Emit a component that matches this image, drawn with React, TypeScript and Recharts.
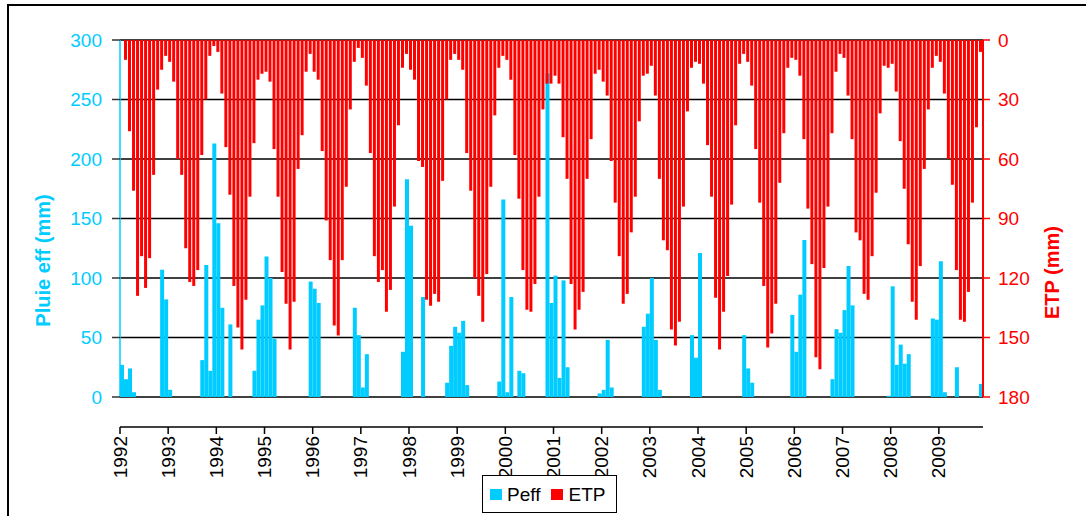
import { BarChart, Bar, XAxis, YAxis, CartesianGrid, Legend } from 'recharts';

// page margin off so the frame can sit at the very top-left like the original
if (typeof document !== 'undefined') document.body.style.margin = '0';

const YEARS = [
  1992, 1993, 1994, 1995, 1996, 1997, 1998, 1999, 2000,
  2001, 2002, 2003, 2004, 2005, 2006, 2007, 2008, 2009,
];

// effective rainfall (mm), monthly, Jan 1992 -> Nov 2009
const PEFF = [
  27, 15, 24, 4, 0, 0, 0, 0, 0, 0, 107, 82,
  6, 0, 0, 0, 0, 0, 0, 0, 31, 111, 22, 213,
  146, 75, 0, 61, 0, 0, 0, 0, 0, 22, 65, 77,
  118, 100, 49, 0, 0, 0, 0, 0, 0, 0, 0, 97,
  91, 79, 0, 0, 0, 0, 0, 0, 0, 0, 75, 52,
  8, 36, 0, 0, 0, 0, 0, 0, 0, 0, 38, 183,
  144, 0, 0, 84, 0, 0, 0, 0, 0, 12, 43, 59,
  54, 64, 10, 0, 0, 0, 0, 0, 0, 0, 13, 166,
  4, 84, 0, 22, 20, 0, 0, 0, 0, 0, 272, 79,
  102, 16, 98, 25, 0, 0, 0, 0, 0, 0, 0, 3,
  6, 48, 8, 0, 0, 0, 0, 0, 0, 0, 59, 70,
  100, 48, 6, 0, 0, 0, 0, 0, 0, 0, 52, 33,
  121, 0, 0, 0, 0, 0, 0, 0, 0, 0, 0, 52,
  24, 12, 0, 0, 0, 0, 0, 0, 0, 0, 0, 69,
  38, 86, 132, 0, 0, 0, 0, 0, 0, 15, 57, 54,
  73, 110, 77, 0, 0, 0, 0, 0, 0, 0, 0, 1,
  93, 27, 44, 28, 36, 0, 0, 0, 0, 0, 66, 65,
  114, 4, 0, 0, 25, 0, 0, 0, 0, 0, 11,
];

// potential evapotranspiration (mm), same months
const ETP = [
  10, 46, 76, 129, 109, 125, 110, 68, 25, 15, 8, 11,
  21, 60, 68, 105, 122, 124, 116, 58, 30, 8, 3, 6,
  27, 54, 78, 124, 145, 156, 131, 79, 52, 20, 17, 16,
  21, 55, 79, 117, 133, 156, 132, 65, 48, 16, 7, 16,
  20, 56, 91, 111, 144, 149, 111, 74, 35, 11, 4, 9,
  23, 57, 109, 122, 116, 137, 126, 84, 43, 14, 7, 15,
  20, 61, 64, 131, 134, 128, 132, 71, 30, 10, 7, 10,
  15, 57, 76, 120, 129, 142, 118, 74, 38, 14, 8, 10,
  20, 58, 80, 116, 136, 137, 123, 79, 35, 22, 22, 18,
  22, 49, 70, 123, 146, 136, 127, 70, 50, 17, 15, 21,
  28, 61, 82, 109, 133, 128, 97, 79, 41, 18, 17, 13,
  28, 70, 101, 106, 146, 154, 142, 84, 36, 14, 11, 12,
  22, 53, 79, 130, 156, 137, 119, 83, 43, 12, 7, 11,
  23, 55, 82, 124, 155, 148, 133, 72, 47, 14, 9, 10,
  18, 50, 85, 113, 160, 166, 115, 84, 47, 16, 7, 9,
  28, 50, 97, 101, 128, 131, 109, 77, 37, 13, 14, 12,
  26, 51, 75, 103, 132, 141, 114, 65, 35, 14, 8, 11,
  27, 60, 73, 116, 141, 142, 127, 82, 44, 6, 0,
];

const PEFF_TICKS = [0, 50, 100, 150, 200, 250, 300];
const ETP_TICKS = [0, 30, 60, 90, 120, 150, 180];

const FONT = '"Liberation Sans", Arial, sans-serif';
const CYAN = '#00CCFF';
const RED = '#FF0000';

// ETP bars sit a little right of the Peff bars in the original
const ETP_SHIFT = 0.75;

const N = PEFF.length;
const data = PEFF.map((peff, i) => ({ t: i + 0.5, peff, etp: ETP[i] }));
const yearTicks = YEARS.map((_, k) => k * 12);

function YearTick(props: any) {
  const { x, y, payload } = props;
  return (
    <text
      x={x}
      y={y}
      transform={`rotate(-90, ${x}, ${y})`}
      textAnchor="end"
      dominantBaseline="central"
      fontSize={19}
      fontFamily={FONT}
      fill="#000"
    >
      {YEARS[Math.round(payload.value / 12)]}
    </text>
  );
}

function axisTitle(text: string, color: string, dx: number, dy: number) {
  return (props: any) => {
    const vb = props.viewBox;
    const cx = vb.x + dx;
    const cy = vb.y + vb.height / 2 + dy;
    return (
      <text
        x={cx}
        y={cy}
        transform={`rotate(-90, ${cx}, ${cy})`}
        textAnchor="middle"
        dominantBaseline="central"
        fontSize={20}
        fontWeight="bold"
        fontFamily={FONT}
        fill={color}
      >
        {text}
      </text>
    );
  };
}

function LegendBox() {
  const swatch = (c: string) => (
    <span style={{ display: 'inline-block', width: 12, height: 11, background: c, marginRight: 5 }} />
  );
  return (
    <div
      style={{
        boxSizing: 'border-box',
        width: 135,
        height: 38,
        border: '1.5px solid #000',
        background: '#fff',
        display: 'flex',
        alignItems: 'center',
        paddingLeft: 7,
        fontFamily: FONT,
        fontSize: 19,
        color: '#000',
        lineHeight: 1,
      }}
    >
      {swatch(CYAN)}
      <span>Peff</span>
      <span style={{ width: 11 }} />
      {swatch(RED)}
      <span>ETP</span>
    </div>
  );
}

export default function App() {
  return (
    <div style={{ position: 'relative', width: 1086, height: 516, overflow: 'hidden', background: '#fff', fontFamily: FONT }}>
      <div
        style={{
          position: 'absolute',
          left: 7,
          top: 4,
          width: 1200,
          height: 700,
          borderLeft: '2px solid #000',
          borderTop: '2px solid #000',
        }}
      />
      <div style={{ position: 'absolute', left: 0, top: 0 }}>
        <BarChart width={1086} height={516} data={data} margin={{ top: 40, right: 13, left: 40, bottom: 0 }}>
          <CartesianGrid xAxisId="peff" yAxisId="left" vertical={false} stroke="#000" strokeWidth={1.5} />
          <XAxis
            xAxisId="peff"
            dataKey="t"
            type="number"
            domain={[0, N]}
            allowDataOverflow
            ticks={yearTicks}
            interval={0}
            tick={<YearTick />}
            tickSize={7}
            tickMargin={2}
            height={78}
            axisLine={{ stroke: '#000', strokeWidth: 1.5 }}
            tickLine={{ stroke: '#000', strokeWidth: 1.5 }}
          />
          <XAxis
            xAxisId="etp"
            dataKey="t"
            type="number"
            domain={[-ETP_SHIFT, N - ETP_SHIFT]}
            allowDataOverflow
            hide
          />
          <YAxis
            yAxisId="left"
            domain={[0, 300]}
            ticks={PEFF_TICKS}
            interval={0}
            width={80}
            tickSize={8}
            tickMargin={10}
            tick={{ fill: CYAN, fontSize: 19, fontFamily: FONT }}
            axisLine={{ stroke: CYAN, strokeWidth: 1.5 }}
            tickLine={{ stroke: '#333', strokeWidth: 1.5 }}
            label={{ value: 'Pluie eff (mm)', content: axisTitle('Pluie eff (mm)', CYAN, 3, 42) }}
          />
          <YAxis
            yAxisId="right"
            orientation="right"
            reversed
            domain={[0, 180]}
            ticks={ETP_TICKS}
            interval={0}
            width={90}
            tickSize={7}
            tickMargin={8}
            tick={{ fill: RED, fontSize: 19, fontFamily: FONT }}
            axisLine={{ stroke: RED, strokeWidth: 2 }}
            tickLine={{ stroke: RED, strokeWidth: 1.5 }}
            label={{ value: 'ETP (mm)', content: axisTitle('ETP (mm)', RED, 69, 54) }}
          />
          <Bar xAxisId="peff" yAxisId="left" dataKey="peff" name="Peff" fill={CYAN} barSize={4} isAnimationActive={false} />
          <Bar xAxisId="etp" yAxisId="right" dataKey="etp" name="ETP" fill={RED} barSize={3} isAnimationActive={false} />
          <Legend
            verticalAlign="bottom"
            height={41}
            wrapperStyle={{ left: 482, width: 135, height: 41, bottom: 0 }}
            content={() => <LegendBox />}
          />
        </BarChart>
      </div>
    </div>
  );
}
